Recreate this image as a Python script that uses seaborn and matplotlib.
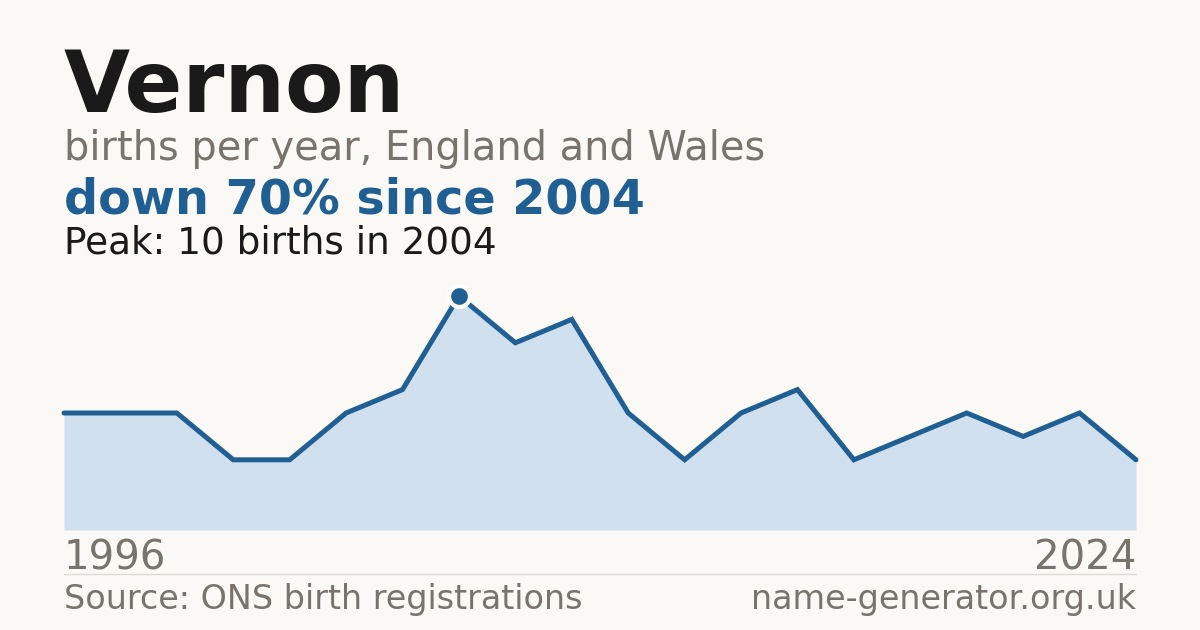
import matplotlib
matplotlib.use("Agg")
import matplotlib.pyplot as plt
import seaborn as sns
import pandas as pd

# ---- data ----
years = [1996, 1997, 1998, 1999, 2000, 2002, 2003, 2004, 2005, 2006,
         2008, 2010, 2011, 2013, 2015, 2017, 2019, 2021, 2022, 2024]
births = [5, 5, 5, 3, 3, 5, 6, 10, 8, 9,
          5, 3, 5, 6, 3, 4, 5, 4, 5, 3]
name = "Vernon"
subtitle = "births per year, England and Wales"
headline = "down 70% since 2004"
peak_text = "Peak: 10 births in 2004"
source = "Source: ONS birth registrations"
site = "name-generator.org.uk"

BG = "#faf9f5"
BLUE = "#1f5f94"
FILL = "#d0e0ef"
GRAY = "#78736c"
DARK = "#1a1a1a"

sns.set_theme(style="white")
plt.rcParams["font.family"] = ["DejaVu Sans"]

W, H = 1200, 630
fig = plt.figure(figsize=(12, 6.3), dpi=100, facecolor=BG)

def fx(px):
    return px / W

def fy(py):
    return 1 - py / H

# plot area: x 64..1136, y 296 (value 10) .. 530 (value 0)
ax = fig.add_axes([fx(64), fy(530), fx(1136) - fx(64), (530 - 296) / H])
ax.set_facecolor("none")
df = pd.DataFrame({"idx": list(range(len(years))), "year": years, "births": births})
ax.fill_between(df["idx"], 0, df["births"], color=FILL, linewidth=0, zorder=1)
sns.lineplot(data=df, x="idx", y="births", ax=ax, color=BLUE, linewidth=3.6,
             solid_joinstyle="miter", zorder=3, clip_on=False)
pk = df["births"].idxmax()
ax.plot([df["idx"][pk]], [df["births"][pk]], marker="o", markersize=15,
        markerfacecolor=BLUE, markeredgecolor="white", markeredgewidth=3,
        zorder=5, clip_on=False)
ax.set_xlim(0, len(years) - 1)
ax.set_ylim(0, max(births))
ax.axis("off")

# texts
fig.text(fx(64), fy(112), name, fontsize=61.5, fontweight="bold", color=DARK, va="baseline", ha="left")
fig.text(fx(64), fy(160), subtitle, fontsize=28.7, color=GRAY, va="baseline", ha="left")
fig.text(fx(64), fy(214), headline, fontsize=34.4, fontweight="bold", color=BLUE, va="baseline", ha="left")
fig.text(fx(64), fy(253), peak_text, fontsize=26.9, color=DARK, va="baseline", ha="left")
fig.text(fx(64), fy(570), str(years[0]), fontsize=29, color=GRAY, va="baseline", ha="left")
fig.text(fx(1136), fy(570), str(years[-1]), fontsize=29, color=GRAY, va="baseline", ha="right")
fig.add_artist(plt.Line2D([fx(64), fx(1136)], [fy(574), fy(574)], color="#dedad3", linewidth=1))
fig.text(fx(64), fy(609), source, fontsize=24, color=GRAY, va="baseline", ha="left")
fig.text(fx(1136), fy(609), site, fontsize=24, color=GRAY, va="baseline", ha="right")

fig.savefig("out.png", dpi=100, facecolor=BG)
